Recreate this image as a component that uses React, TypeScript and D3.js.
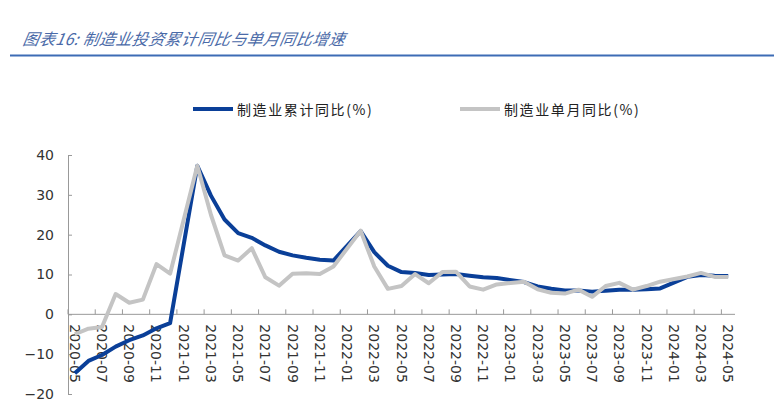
import React, { useEffect, useRef } from "react";
import * as d3 from "d3";

// monthly categories 2020-05 .. 2024-05
const months: string[] = [];
for (let y = 2020; y <= 2024; y++) {
  for (let m = 1; m <= 12; m++) {
    if ((y === 2020 && m < 5) || (y === 2024 && m > 5)) continue;
    months.push(`${y}-${String(m).padStart(2, "0")}`);
  }
}

// 制造业累计同比(%) — January has no release (null)
const cumulative: (number | null)[] = [
  -14.8, -11.7, -10.2, -8.1, -6.5, -5.3, -3.5, -2.2,
  null, 37.3, 29.8, 23.8, 20.4, 19.2, 17.3, 15.7, 14.8, 14.2, 13.7, 13.5,
  null, 20.9, 15.6, 12.2, 10.6, 10.4, 9.9, 10.0, 10.1, 9.7, 9.3, 9.1,
  null, 8.1, 7.0, 6.4, 6.0, 6.0, 5.7, 5.9, 6.2, 6.2, 6.3, 6.5,
  null, 9.4, 9.9, 9.7, 9.6,
];

// 制造业单月同比(%)
const single: (number | null)[] = [
  -5.0, -3.6, -3.2, 5.1, 2.9, 3.7, 12.6, 10.2,
  null, 37.3, 25.0, 14.8, 13.5, 16.6, 9.3, 7.2, 10.2, 10.3, 10.1, 12.0,
  null, 21.0, 12.0, 6.4, 7.1, 10.1, 7.8, 10.6, 10.7, 7.0, 6.2, 7.5,
  null, 8.2, 6.3, 5.4, 5.2, 6.2, 4.4, 7.1, 7.9, 6.2, 7.1, 8.2,
  null, 9.5, 10.4, 9.4, 9.4,
];

const yTicks = [-20, -10, 0, 10, 20, 30, 40];
const xLabels = months.filter((_, i) => i % 2 === 0);

const TITLE = "图表16:  制造业投资累计同比与单月同比增速";
const LEGEND = ["制造业累计同比(%)", "制造业单月同比(%)"];
const BLUE = "#0a3f98";
const GRAY = "#c4c4c4";

function Chart() {
  const svgRef = useRef<SVGSVGElement>(null);

  useEffect(() => {
    const svg = d3.select(svgRef.current);
    svg.selectAll("*").remove();

    const x = d3.scaleBand<string>().domain(months).range([68, 735]).padding(0);
    const y = d3.scaleLinear().domain([-20, 40]).range([394, 155]);
    const cx = (m: string) => (x(m) as number) + x.bandwidth() / 2;

    // title and rule
    svg.append("text")
      .attr("x", 22).attr("y", 45)
      .attr("font-family", "'Noto Sans CJK SC', sans-serif")
      .attr("font-size", 16).attr("font-style", "italic")
      .attr("letter-spacing", 0.4)
      .attr("fill", "#4a6aa8")
      .attr("transform", "skewX(-10) translate(8,0)")
      .text(TITLE);
    svg.append("line")
      .attr("x1", 10).attr("x2", 782).attr("y1", 55.5).attr("y2", 55.5)
      .attr("stroke", "#3d6cb5").attr("stroke-width", 2);

    // legend
    const legend = svg.append("g")
      .attr("font-family", "'Noto Sans CJK SC', sans-serif")
      .attr("font-size", 14)
      .attr("letter-spacing", 1.6);
    [[193, BLUE], [460, GRAY]].forEach(([lx, c], i) => {
      legend.append("line")
        .attr("x1", lx as number).attr("x2", (lx as number) + 40)
        .attr("y1", 109).attr("y2", 109)
        .attr("stroke", c as string).attr("stroke-width", 4);
      legend.append("text")
        .attr("x", (lx as number) + 44).attr("y", 109)
        .attr("dominant-baseline", "central")
        .attr("fill", "#222")
        .text(LEGEND[i]);
    });

    // y axis
    const yAxis = d3.axisLeft(y).tickValues(yTicks).tickSize(-4).tickPadding(14).tickFormat(d3.format("d"));
    const gy = svg.append("g").attr("transform", "translate(68,0)").call(yAxis);
    gy.select(".domain").attr("stroke", "#999");
    gy.selectAll(".tick line").attr("stroke", "#999");
    gy.selectAll("text")
      .attr("font-family", "'DejaVu Sans', sans-serif")
      .attr("font-size", 14).attr("fill", "#333");

    // x axis at zero
    const gx = svg.append("g").attr("transform", `translate(0,${y(0)})`);
    gx.append("line")
      .attr("x1", 68).attr("x2", 735)
      .attr("stroke", "#999");
    gx.selectAll("line.tk")
      .data(xLabels)
      .join("line")
      .attr("class", "tk")
      .attr("x1", (d) => x(d) as number).attr("x2", (d) => x(d) as number)
      .attr("y1", 0).attr("y2", -5)
      .attr("stroke", "#999");
    gx.selectAll("text")
      .data(xLabels)
      .join("text")
      .attr("transform", (d) => `translate(${cx(d)},10) rotate(90)`)
      .attr("dominant-baseline", "central")
      .attr("font-family", "'DejaVu Sans', sans-serif")
      .attr("font-size", 14).attr("fill", "#333")
      .text((d) => d);

    // lines (gaps for January are bridged)
    const line = d3.line<[string, number | null]>()
      .x((d) => cx(d[0]))
      .y((d) => y(d[1] as number));

    const draw = (vals: (number | null)[], color: string) => {
      const pts = months.map((m, i) => [m, vals[i]] as [string, number | null]).filter((d) => d[1] !== null);
      svg.append("path")
        .attr("d", line(pts))
        .attr("fill", "none")
        .attr("stroke", color)
        .attr("stroke-width", 4)
        .attr("stroke-linejoin", "round");
    };
    draw(cumulative, BLUE);
    draw(single, GRAY);
  }, []);

  return <svg ref={svgRef} width={782} height={417} style={{ display: "block" }} />;
}

export default function App() {
  return (
    <div style={{ margin: -8 }}>
      <Chart />
    </div>
  );
}
